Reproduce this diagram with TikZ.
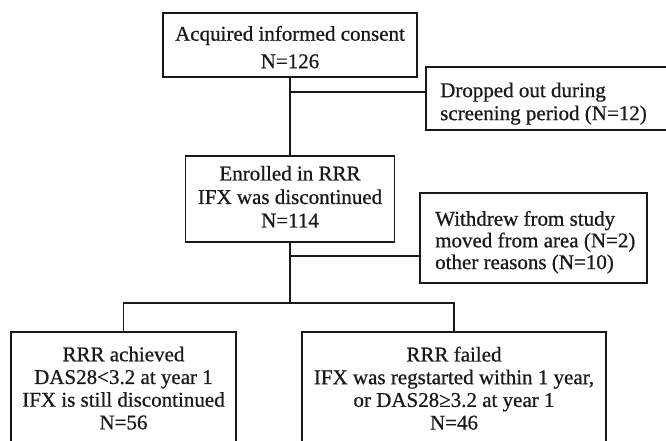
\documentclass[tikz,border=0pt]{standalone}
\usepackage{fontspec}
\setmainfont{Liberation Serif}[FakeBold=0.7]
\begin{document}
\begin{tikzpicture}[x=1pt,y=-1pt,
  boxs/.style={draw=black!90, line width=1.8pt, rectangle, inner sep=0pt},
  conn/.style={draw=black!90, line width=1.8pt},
  txt/.style={inner sep=0pt, text=black!90, font=\fontsize{21}{#1}\selectfont},
  txt/.default=23]
\useasboundingbox (0,0) rectangle (666,441);
\begin{scope}
\clip (0,0) rectangle (666,441);
% boxes
\node[boxs, minimum width=254pt, minimum height=64pt] (top) at (290,45) {};
\node[boxs, minimum width=242pt, minimum height=63pt] (drop) at (547,98.5) {};
\node[boxs, minimum width=209pt, minimum height=86pt] (enr) at (290,199) {};
\node[boxs, minimum width=227pt, minimum height=90pt] (wd) at (533.5,238) {};
\node[boxs, minimum width=225pt, minimum height=120pt] (lft) at (123.5,392) {};
\node[boxs, minimum width=304pt, minimum height=120pt] (rgt) at (454,392) {};
% texts
\node[txt=27.5, anchor=north, align=center] (tTop) at (290,25.7) {Acquired informed consent\\N=126};
\node[txt=23, anchor=north west, align=left] (tDrop) at (440,82.4) {Dropped out during\\screening period (N=12)};
\node[txt=23.5, anchor=north, align=center] (tEnr) at (290,165.7) {Enrolled in RRR\\IFX was discontinued\\N=114};
\node[txt=21.7, anchor=north west, align=left] (tWd) at (435,210.7) {Withdrew from study\\moved from area (N=2)\\other reasons (N=10)};
\node[txt=22.7, anchor=north, align=center] (tL) at (123.5,346.5) {RRR achieved\\DAS28<3.2 at year 1\\IFX is still discontinued\\N=56};
\node[txt=22.7, anchor=north, align=center] (tR) at (454,346.5) {RRR failed\\IFX was regstarted within 1 year,\\or DAS28≥3.2 at year 1\\N=46};
% connectors
\coordinate (j1) at (290,92);
\coordinate (j2) at (290,256);
\coordinate (j3) at (290,303);
\draw[conn] (top.south) -- (enr.north);
\draw[conn] (j1) -- (j1 -| drop.west);
\draw[conn] (enr.south) -- (j3);
\draw[conn] (j2) -- (j2 -| wd.west);
\draw[conn] (lft.north) |- (j3) -| (rgt.north);
\end{scope}
\end{tikzpicture}
\end{document}
